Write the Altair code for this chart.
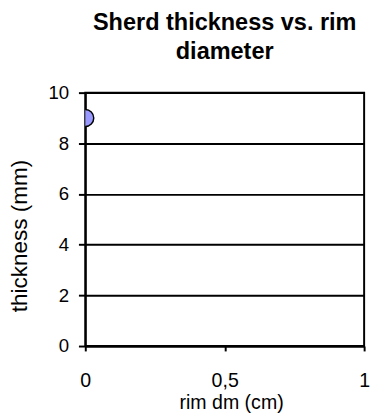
import altair as alt
import pandas as pd

# data
rim_dm = [0.0]
thickness = [9.0]
x_ticks = [0, 0.5, 1]
y_ticks = [0, 2, 4, 6, 8, 10]

df = pd.DataFrame({"rim dm (cm)": rim_dm, "thickness (mm)": thickness})

FONT = "Liberation Sans"

points = alt.Chart(df).mark_point(
    filled=True, fill="#9999FF", stroke="black", strokeWidth=1.5,
    size=300, opacity=1, clip=True
).encode(
    x=alt.X("rim dm (cm):Q",
            scale=alt.Scale(domain=[0, 1], nice=False),
            axis=alt.Axis(values=x_ticks, title="rim dm (cm)",
                          labelExpr="replace(format(datum.value, ''), '.', ',')",
                          grid=False, tickSize=5, labelPadding=20,
                          labelFontSize=20, titleFontSize=20,
                          titlePadding=3, titleX=149)),
    y=alt.Y("thickness (mm):Q",
            scale=alt.Scale(domain=[0, 10], nice=False),
            axis=alt.Axis(values=y_ticks, title="thickness (mm)",
                          grid=True, tickSize=7, labelPadding=10,
                          labelFontSize=19, titleFontSize=23,
                          titlePadding=17, titleY=146)),
)

chart = points.properties(
    width=285, height=259,
    autosize=alt.AutoSizeParams(type="none"),
    padding={"left": 79, "top": 82, "right": 6, "bottom": 68},
    title=alt.TitleParams(["Sherd thickness vs. rim", "diameter"],
                          font=FONT, fontSize=24, fontWeight="bold",
                          lineHeight=30, color="black", anchor="middle",
                          offset=20),
).configure_view(
    stroke="black", strokeWidth=2
).configure_axis(
    labelFont=FONT, titleFont=FONT,
    titleFontWeight="normal", labelColor="black", titleColor="black",
    domainColor="black", domainWidth=2, tickColor="black", tickWidth=2,
    gridColor="black", gridWidth=2, gridOpacity=1, labelFlush=False,
    labelOverlap=False
)

chart.save("out.html", embed_options={"renderer": "svg", "actions": False})
